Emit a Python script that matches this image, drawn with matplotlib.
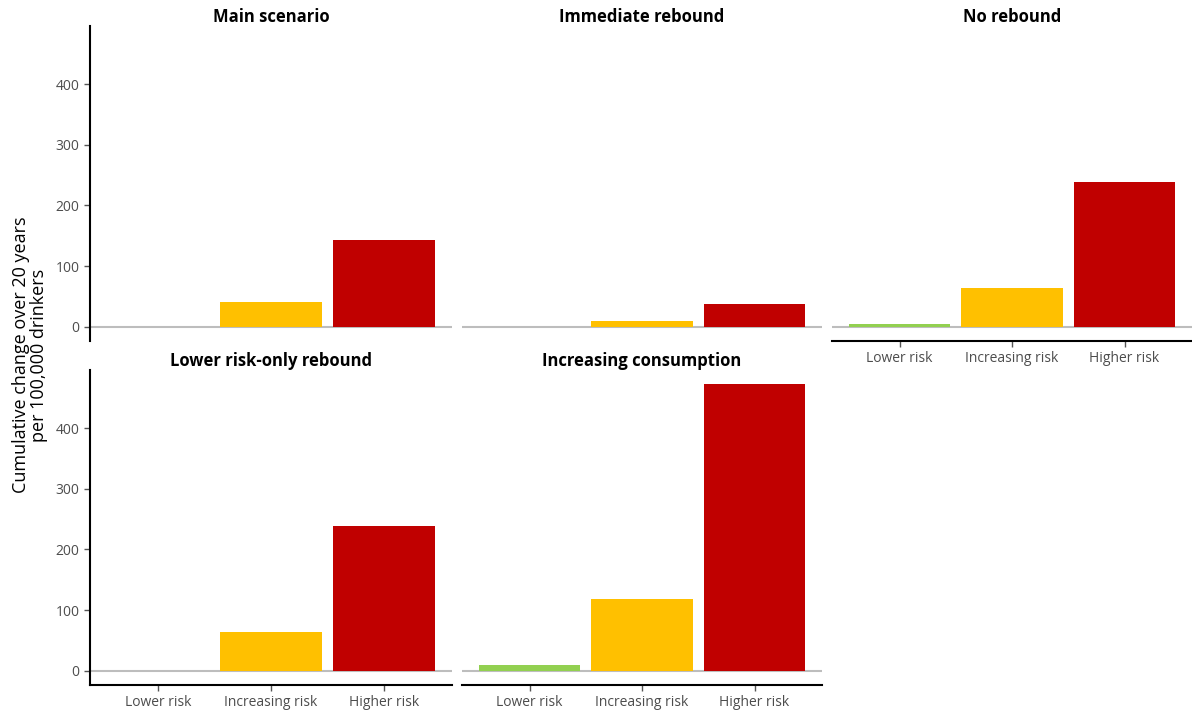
import matplotlib.pyplot as plt

plt.rcParams['font.family'] = ['Open Sans', 'DejaVu Sans']

risk_groups = ["Lower risk", "Increasing risk", "Higher risk"]
risk_colours = ["#92D050", "#FFC000", "#C00000"]

scenarios = ["Main scenario", "Immediate rebound", "No rebound",
             "Lower risk-only rebound", "Increasing consumption"]
main_scenario = [0, 40, 143]
immediate_rebound = [0, 10, 37]
no_rebound = [4, 64, 239]
lower_risk_only = [0, 64, 239]
increasing_consumption = [10, 118, 472]
values = [main_scenario, immediate_rebound, no_rebound,
          lower_risk_only, increasing_consumption]

W, H = 1192, 713
fig = plt.figure(figsize=(W / 100, H / 100), dpi=100)

# panel boxes in pixels: left, right, top, bottom
cols = [(90, 452), (462, 822), (832, 1192)]
rows = [(26, 341), (370, 685)]

ymax = max(increasing_consumption)
ylim = (-0.05 * ymax, 1.05 * ymax)

for i, (name, vals) in enumerate(zip(scenarios, values)):
    r, c = divmod(i, 3)
    x0, x1 = cols[c]
    t, b = rows[r]
    ax = fig.add_axes([x0 / W, 1 - b / H, (x1 - x0) / W, (b - t) / H])
    xs = range(len(risk_groups))
    ax.bar(xs, vals, width=0.9, color=risk_colours)
    ax.axhline(0, color="#bdbdbd", lw=1.5, zorder=0)
    ax.set_xlim(-0.6, 2.6)
    ax.set_ylim(*ylim)
    ax.set_yticks([0, 100, 200, 300, 400])
    ax.set_xticks(list(xs))
    ax.set_xticklabels(risk_groups)
    ax.tick_params(axis="both", labelsize=10, labelcolor="#4d4d4d",
                   color="#555555", length=4, width=1)
    for s in ["top", "right"]:
        ax.spines[s].set_visible(False)
    for s in ["left", "bottom"]:
        ax.spines[s].set_linewidth(1.5)
        ax.spines[s].set_color("black")

    show_x = (r == 1) or (c == 2)
    show_y = (c == 0)
    if not show_x:
        ax.spines["bottom"].set_visible(False)
        ax.tick_params(axis="x", bottom=False, labelbottom=False)
    if not show_y:
        ax.spines["left"].set_visible(False)
        ax.tick_params(axis="y", left=False, labelleft=False)
    ax.set_title(name, fontsize=12, fontweight="bold", pad=2)

fig.text(30 / W, 1 - 355 / H, "Cumulative change over 20 years\nper 100,000 drinkers",
         rotation=90, ha="center", va="center", fontsize=13, linespacing=1.05)

fig.savefig("out.png", dpi=100)
